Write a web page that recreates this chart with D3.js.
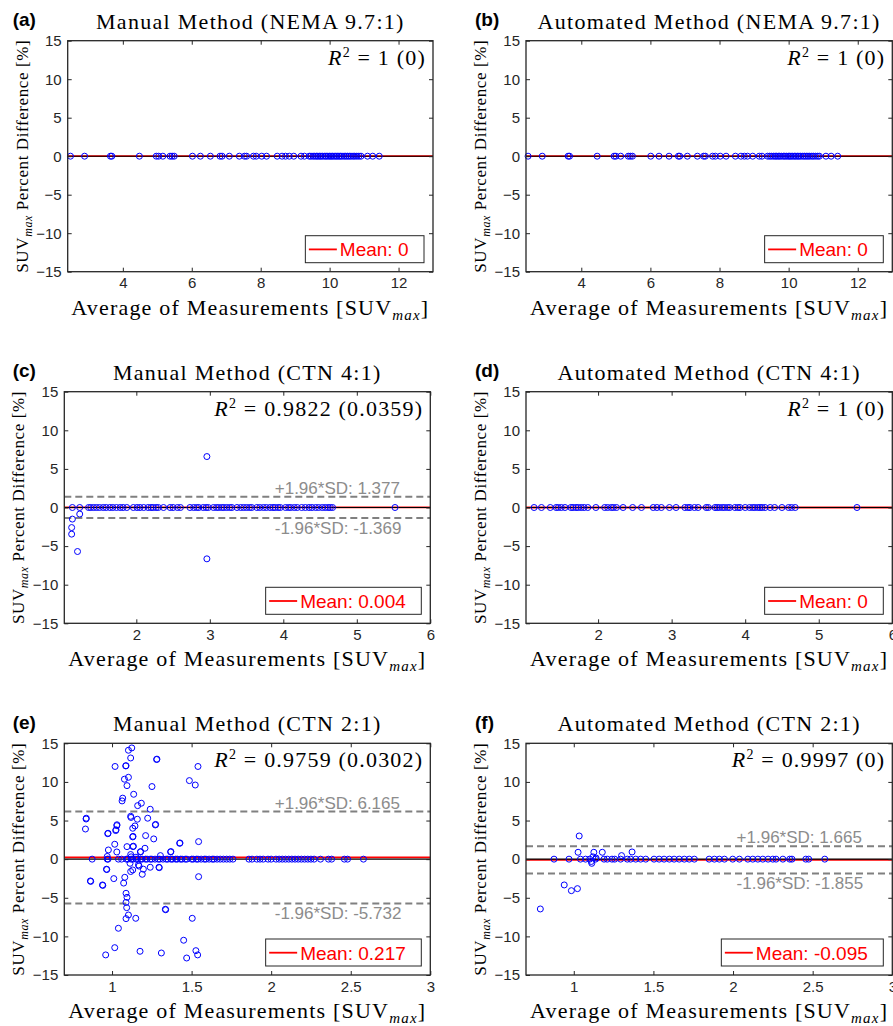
<!DOCTYPE html>
<html><head><meta charset="utf-8">
<script src="https://cdn.jsdelivr.net/npm/d3@7/dist/d3.min.js"></script>
<style>body{margin:0;background:#fff}svg{display:block}</style>
</head><body>
<svg id="chart" width="893" height="1026"></svg>
<script>
// ---------------- DATA ----------------
const panelLetters = ["(a)", "(b)", "(c)", "(d)", "(e)", "(f)"];
const titles = ["Manual Method (NEMA 9.7:1)", "Automated Method (NEMA 9.7:1)",
  "Manual Method (CTN 4:1)", "Automated Method (CTN 4:1)",
  "Manual Method (CTN 2:1)", "Automated Method (CTN 2:1)"];
const r2Values = ["1 (0)", "1 (0)", "0.9822 (0.0359)", "1 (0)", "0.9759 (0.0302)", "0.9997 (0)"];
const meanValues = [0, 0, 0.004, 0, 0.217, -0.095];
const upperSD = [null, null, 1.377, null, 6.165, 1.665];
const lowerSD = [null, null, -1.369, null, -5.732, -1.855];
const xDomains = [[2.4, 13], [2.4, 13], [1.02, 6], [1.02, 6], [0.7, 3], [0.7, 3]];
const xTickValues = [[4, 6, 8, 10, 12], [4, 6, 8, 10, 12], [2, 3, 4, 5, 6], [2, 3, 4, 5, 6],
  [1, 1.5, 2, 2.5, 3], [1, 1.5, 2, 2.5, 3]];
const yTickValues = [-15, -10, -5, 0, 5, 10, 15];
const yDomain = [-15, 15];

const pointsA = [[2.48,0],[2.89,0],[3.64,0],[3.68,0],[4.48,0],[4.97,0],[5.04,0],[5.16,0],[5.37,0],[5.43,0],[5.49,0],
  [6.02,0],[6.25,0],[6.54,0],[6.82,0],[6.88,0],[7.09,0],[7.38,0],[7.53,0],[7.59,0],[7.79,0],[7.87,0],[8.03,0],[8.17,0],
  [8.48,0],[8.62,0],[8.72,0],[8.83,0],[8.96,0],[9.17,0],[9.27,0],[9.41,0],[9.46,0],[9.52,0],[9.57,0],[9.62,0],[9.66,0],
  [9.71,0],[9.75,0],[9.80,0],[9.86,0],[9.90,0],[9.95,0],[10.00,0],[10.04,0],[10.08,0],[10.13,0],[10.18,0],[10.22,0],
  [10.27,0],[10.31,0],[10.36,0],[10.42,0],[10.47,0],[10.52,0],[10.57,0],[10.62,0],[10.68,0],[10.73,0],[10.79,0],
  [10.85,0],[10.91,0],[11.10,0],[11.25,0],[11.44,0]];
const pointsB = [[2.46,0],[2.87,0],[3.62,0],[3.66,0],[4.46,0],[4.95,0],[5.00,0],[5.14,0],[5.36,0],[5.42,0],[5.48,0],
  [6.01,0],[6.25,0],[6.54,0],[6.81,0],[6.85,0],[7.07,0],[7.36,0],[7.54,0],[7.59,0],[7.80,0],[7.88,0],[8.02,0],[8.19,0],
  [8.46,0],[8.62,0],[8.72,0],[8.81,0],[8.96,0],[9.15,0],[9.23,0],[9.39,0],[9.45,0],[9.50,0],[9.56,0],[9.61,0],[9.65,0],
  [9.70,0],[9.74,0],[9.79,0],[9.85,0],[9.89,0],[9.94,0],[9.99,0],[10.03,0],[10.07,0],[10.12,0],[10.17,0],[10.21,0],
  [10.26,0],[10.30,0],[10.35,0],[10.41,0],[10.46,0],[10.51,0],[10.56,0],[10.61,0],[10.67,0],[10.72,0],[10.78,0],
  [10.84,0],[10.89,0],[11.08,0],[11.23,0],[11.42,0]];
const pointsC = [[2.96,6.6],[2.96,-6.65],[1.13,-1.5],[1.12,-2.6],[1.12,-3.45],[1.20,-5.7],[1.23,-0.85],
  [1.13,0],[1.23,0],[1.35,0],[1.38,0],[1.42,0],[1.46,0],[1.50,0],[1.55,0],[1.59,0],[1.64,0],[1.68,0],[1.73,0],[1.78,0],
  [1.82,0],[1.87,0],[1.96,0],[2.01,0],[2.05,0],[2.10,0],[2.16,0],[2.20,0],[2.23,0],[2.27,0],[2.30,0],[2.37,0],[2.46,0],
  [2.50,0],[2.56,0],[2.60,0],[2.73,0],[2.78,0],[2.82,0],[2.85,0],[2.91,0],[2.95,0],[2.98,0],[3.05,0],[3.09,0],[3.12,0],
  [3.16,0],[3.19,0],[3.23,0],[3.27,0],[3.30,0],[3.37,0],[3.42,0],[3.46,0],[3.50,0],[3.54,0],[3.57,0],[3.64,0],[3.68,0],
  [3.73,0],[3.77,0],[3.82,0],[3.86,0],[3.89,0],[3.93,0],[3.96,0],[4.03,0],[4.07,0],[4.10,0],[4.15,0],[4.19,0],[4.25,0],
  [4.30,0],[4.35,0],[4.39,0],[4.44,0],[4.48,0],[4.53,0],[4.57,0],[4.61,0],[4.64,0],[4.67,0],[5.52,0]];
const pointsD = [[1.13,0],[1.23,0],[1.35,0],[1.43,0],[1.46,0],[1.50,0],[1.55,0],[1.63,0],[1.66,0],[1.70,0],[1.73,0],
  [1.77,0],[1.81,0],[1.86,0],[1.97,0],[2.09,0],[2.13,0],[2.18,0],[2.21,0],[2.25,0],[2.34,0],[2.47,0],[2.59,0],[2.75,0],
  [2.80,0],[2.86,0],[2.97,0],[3.06,0],[3.18,0],[3.22,0],[3.25,0],[3.31,0],[3.36,0],[3.47,0],[3.50,0],[3.59,0],[3.62,0],
  [3.65,0],[3.69,0],[3.72,0],[3.76,0],[3.79,0],[3.86,0],[3.90,0],[3.93,0],[4.00,0],[4.06,0],[4.10,0],[4.13,0],[4.17,0],
  [4.20,0],[4.23,0],[4.27,0],[4.34,0],[4.40,0],[4.50,0],[4.59,0],[4.63,0],[4.68,0],[5.52,0]];
const pointsE = [[1.124,14.4],[1.103,14.1],[1.117,13.1],[1.28,12.9],[1.282,12.95],[1.019,12.0],[1.086,12.07],[1.088,12.1],
  [1.54,12.0],[1.078,10.35],[1.103,10.6],[1.094,9.52],[1.251,9.4],[1.486,10.17],[1.523,9.6],[1.136,8.4],[1.067,7.9],
  [1.063,7.54],[1.184,7.24],[1.161,6.93],[1.24,6.46],[0.837,5.2],[0.838,5.3],[0.833,3.9],[1.117,5.55],[1.119,5.4],
  [1.159,5.17],[1.224,5.3],[1.272,4.43],[1.274,4.5],[1.03,4.34],[1.031,4.45],[1.023,3.7],[1.025,3.8],[1.144,4.3],
  [1.13,4.0],[0.973,3.3],[0.975,3.35],[1.211,3.05],[1.13,2.88],[1.132,2.95],[1.262,2.62],[1.425,2.05],[1.427,2.1],
  [1.544,2.27],[1.017,1.93],[1.094,1.62],[1.132,1.62],[1.134,1.68],[1.207,1.41],[0.977,1.19],[1.03,0.93],[1.178,0.93],
  [1.18,0.98],[1.368,0.93],[1.37,0.98],[1.304,0.46],[1.117,0.6],[1.12,0.3],[0.97,0.35],[1.15,0.25],
  [1.113,-0.54],[1.166,-0.75],[1.17,-0.9],[1.24,-1.05],[1.295,-1.05],[1.297,-1.1],[0.965,-1.3],[0.967,-1.35],
  [1.197,-1.3],[1.13,-1.4],[1.117,-1.6],[1.19,-1.96],[0.864,-2.82],[0.866,-2.88],[1.011,-2.52],[1.08,-2.35],
  [1.073,-3.1],[0.94,-3.34],[0.942,-3.4],[1.544,-2.27],[1.088,-4.42],[1.094,-4.94],[1.088,-5.6],[1.092,-6.28],
  [1.335,-6.49],[1.337,-6.55],[1.103,-7.23],[1.088,-7.7],[1.149,-7.66],[1.504,-7.66],[1.04,-8.95],[1.45,-10.5],
  [1.017,-11.46],[1.176,-11.93],[1.31,-12.15],[1.527,-11.85],[1.538,-12.4],[0.96,-12.4],[1.469,-12.8],
  [0.875,0],[0.97,0],[0.975,0],[1.04,0],[1.06,0],[1.09,0],[1.10,0],[1.12,0],[1.13,0],[1.15,0],[1.16,0],[1.18,0],
  [1.19,0],[1.21,0],[1.22,0],[1.24,0],[1.25,0],[1.27,0],[1.29,0],[1.30,0],[1.32,0],[1.34,0],[1.35,0],[1.37,0],
  [1.38,0],[1.40,0],[1.41,0],[1.43,0],[1.44,0],[1.46,0],[1.47,0],[1.50,0],[1.51,0],[1.53,0],[1.54,0],[1.56,0],
  [1.58,0],[1.59,0],[1.61,0],[1.63,0],[1.64,0],[1.66,0],[1.68,0],[1.70,0],[1.72,0],[1.74,0],[1.76,0],[1.86,0],
  [1.88,0],[1.91,0],[1.93,0],[1.95,0],[1.98,0],[2.00,0],[2.03,0],[2.05,0],[2.07,0],[2.09,0],[2.11,0],[2.13,0],
  [2.15,0],[2.17,0],[2.19,0],[2.21,0],[2.23,0],[2.25,0],[2.27,0],[2.31,0],[2.36,0],[2.38,0],[2.46,0],[2.48,0],[2.58,0]];
const pointsF = [[0.79,-6.45],[0.94,-3.34],[0.985,-4.08],[1.023,-3.82],[1.034,3.0],[1.027,0.89],[1.126,0.89],
  [1.179,0.89],[1.30,0.46],[1.366,0.93],[1.113,-0.54],[1.12,0.3],[1.11,-0.3],[1.14,0.15],
  [0.876,0],[0.97,0],[1.042,0],[1.074,0],[1.10,0],[1.137,0],[1.19,0],[1.21,0],[1.24,0],[1.257,0],[1.294,0],[1.336,0],
  [1.357,0],[1.389,0],[1.42,0],[1.452,0],[1.504,0],[1.536,0],[1.567,0],[1.60,0],[1.63,0],[1.662,0],[1.694,0],
  [1.725,0],[1.757,0],[1.85,0],[1.883,0],[1.914,0],[1.946,0],[1.998,0],[2.04,0],[2.093,0],[2.124,0],[2.156,0],
  [2.187,0],[2.22,0],[2.25,0],[2.27,0],[2.313,0],[2.356,0],[2.37,0],[2.457,0],[2.475,0],[2.576,0]];
const panelPoints = [pointsA, pointsB, pointsC, pointsD, pointsE, pointsF];

// ---------------- LAYOUT ----------------
const boxes = [
  {l: 67.7, r: 433, t: 40.7, b: 271.7},
  {l: 526, r: 892.3, t: 40.7, b: 271.7},
  {l: 64.3, r: 430.3, t: 391.7, b: 623.3},
  {l: 526, r: 892.3, t: 391.7, b: 623.3},
  {l: 64.3, r: 430.3, t: 743.3, b: 975},
  {l: 526, r: 892.3, t: 743.3, b: 975}
];
const SERIF = "'Liberation Serif', 'Times New Roman', serif";
const SANS = "'Liberation Sans', Arial, sans-serif";
const AXC = "#262626";

const svg = d3.select("#chart");

boxes.forEach((bx, i) => {
  const g = svg.append("g");
  const x = d3.scaleLinear().domain(xDomains[i]).range([bx.l, bx.r]);
  const y = d3.scaleLinear().domain(yDomain).range([bx.b, bx.t]);

  // dashed SD lines
  [upperSD[i], lowerSD[i]].forEach(v => {
    if (v === null) return;
    g.append("line").attr("x1", bx.l).attr("x2", bx.r).attr("y1", y(v)).attr("y2", y(v))
      .attr("stroke", "#808080").attr("stroke-width", 2).attr("stroke-dasharray", "7,4");
  });
  // mean line (red) and zero line (black)
  g.append("line").attr("x1", bx.l).attr("x2", bx.r).attr("y1", y(meanValues[i])).attr("y2", y(meanValues[i]))
    .attr("stroke", "#ff0000").attr("stroke-width", 1.8);
  g.append("line").attr("x1", bx.l).attr("x2", bx.r).attr("y1", y(0)).attr("y2", y(0))
    .attr("stroke", "#000").attr("stroke-width", 1.1);

  // SD labels
  const sdx = bx.l + 0.575 * (bx.r - bx.l);
  if (upperSD[i] !== null) {
    g.append("text").attr("x", sdx).attr("y", y(upperSD[i]) - 3)
      .attr("font-family", SANS).attr("font-size", 17).attr("fill", "#8c8c8c")
      .text("+1.96*SD: " + upperSD[i]);
    g.append("text").attr("x", sdx).attr("y", y(lowerSD[i]) + 15.5)
      .attr("font-family", SANS).attr("font-size", 17).attr("fill", "#8c8c8c")
      .text("-1.96*SD: " + lowerSD[i]);
  }

  // points
  g.selectAll("circle").data(panelPoints[i]).enter().append("circle")
    .attr("cx", d => x(d[0])).attr("cy", d => y(d[1])).attr("r", 3)
    .attr("fill", "none").attr("stroke", "#0000ff").attr("stroke-width", 1);

  // axes (inner ticks on all sides)
  const tk = 4;
  const ax = [
    g.append("g").attr("transform", `translate(${bx.l},0)`).call(d3.axisLeft(y).tickValues(yTickValues).tickSize(-tk).tickPadding(6)),
    g.append("g").attr("transform", `translate(${bx.r},0)`).call(d3.axisRight(y).tickValues(yTickValues).tickSize(-tk).tickFormat("")),
    g.append("g").attr("transform", `translate(0,${bx.b})`).call(d3.axisBottom(x).tickValues(xTickValues[i]).tickSize(-tk).tickPadding(6).tickFormat(d => String(d))),
    g.append("g").attr("transform", `translate(0,${bx.t})`).call(d3.axisTop(x).tickValues(xTickValues[i]).tickSize(-tk).tickFormat(""))
  ];
  ax.forEach(a => {
    a.select(".domain").remove();
    a.selectAll("line").attr("stroke", AXC).attr("stroke-width", 1);
    a.selectAll("text").attr("font-family", SANS).attr("font-size", 15).attr("fill", AXC);
  });
  // frame
  g.append("rect").attr("x", bx.l).attr("y", bx.t).attr("width", bx.r - bx.l).attr("height", bx.b - bx.t)
    .attr("fill", "none").attr("stroke", AXC).attr("stroke-width", 1.3);

  // R^2 text
  const r2 = g.append("text").attr("x", bx.r - 7).attr("y", bx.t + 24).attr("text-anchor", "end")
    .attr("font-family", SERIF).attr("font-size", 22).attr("letter-spacing", 1.2).attr("fill", "#000");
  r2.append("tspan").attr("font-style", "italic").text("R");
  r2.append("tspan").attr("dy", -8).attr("font-size", 14).text("2");
  r2.append("tspan").attr("dy", 8).text(" = " + r2Values[i]);

  // legend
  const lg = g.append("g");
  const lt = lg.append("text").attr("font-family", SANS).attr("font-size", 19).attr("fill", "#ff0000")
    .text("Mean: " + meanValues[i]);
  const tw = lt.node().getComputedTextLength();
  const lw = tw + 50, lh = 27;
  const lx = bx.r - 9 - lw, ly = bx.b - 9 - lh;
  lg.insert("rect", "text").attr("x", lx).attr("y", ly).attr("width", lw).attr("height", lh)
    .attr("fill", "#fff").attr("stroke", AXC).attr("stroke-width", 1);
  lg.append("line").attr("x1", lx + 3.5).attr("x2", lx + 31.5).attr("y1", ly + 13.7).attr("y2", ly + 13.7)
    .attr("stroke", "#ff0000").attr("stroke-width", 1.8);
  lt.attr("x", lx + 34.5).attr("y", ly + 20.5);

  // title
  g.append("text").attr("x", (bx.l + bx.r) / 2).attr("y", bx.t - 12).attr("text-anchor", "middle")
    .attr("font-family", SERIF).attr("font-size", 22).attr("letter-spacing", 1.3).attr("fill", "#000")
    .text(titles[i]);
  // panel letter
  g.append("text").attr("x", i % 2 === 0 ? 12.7 : 475).attr("y", bx.t - 14.5)
    .attr("font-family", SANS).attr("font-weight", "bold").attr("font-size", 19).attr("fill", "#000")
    .text(panelLetters[i]);

  // x label
  const xl = g.append("text").attr("x", (bx.l + bx.r) / 2).attr("y", bx.b + 43).attr("text-anchor", "middle")
    .attr("font-family", SERIF).attr("font-size", 22).attr("letter-spacing", 1.2).attr("fill", "#000");
  xl.append("tspan").text("Average of Measurements [SUV");
  xl.append("tspan").attr("dy", 5).attr("font-size", 15).attr("font-style", "italic").text("max");
  xl.append("tspan").attr("dy", -5).text("]");

  // y label
  const yl = g.append("text")
    .attr("transform", `translate(${bx.l - 40},${(bx.t + bx.b) / 2}) rotate(-90)`)
    .attr("text-anchor", "middle").attr("font-family", SERIF).attr("font-size", 17)
    .attr("letter-spacing", 0.6).attr("fill", "#000");
  yl.append("tspan").text("SUV");
  yl.append("tspan").attr("dy", 4).attr("font-size", 12).attr("font-style", "italic").text("max");
  yl.append("tspan").attr("dy", -4).text(" Percent Difference [%]");
});
</script>
</body></html>
